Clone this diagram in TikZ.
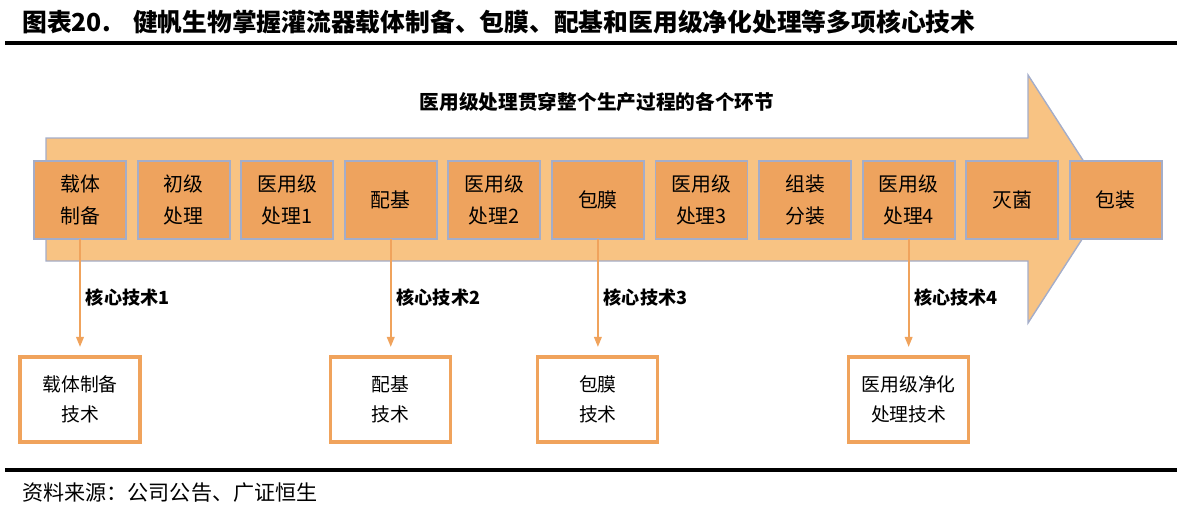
\documentclass[tikz,border=0pt]{standalone}
\usepackage{fontspec}
\setmainfont{Noto Sans CJK SC}
\usetikzlibrary{arrows.meta,positioning}
\definecolor{bandfill}{HTML}{F8C383}
\definecolor{stagefill}{HTML}{EEA35E}
\definecolor{stageline}{HTML}{A4ADC9}
\definecolor{techline}{HTML}{F0A35C}
\tikzset{
  stagebox/.style={
    draw=stageline,
    fill=stagefill,
    line width=1.1pt,
    align=center,
    minimum width=1.84cm,
    minimum height=1.56cm,
    inner sep=0pt,
    outer sep=0pt,
    font=\fontsize{11.3}{18}\selectfont
  },
  techbox/.style={
    draw=techline,
    fill=white,
    line width=1.8pt,
    align=center,
    minimum width=2.4cm,
    minimum height=1.7cm,
    inner sep=0pt,
    outer sep=0pt,
    font=\fontsize{10.7}{17}\selectfont
  },
  bandarrow/.style={
    fill=bandfill,
    draw=stageline,
    line width=0.8pt
  },
  techarrow/.style={
    -{Triangle[length=2mm,width=1.5mm]},
    draw=techline,
    line width=1.1pt,
    shorten >=0.2cm
  },
  techlabel/.style={
    anchor=west,
    inner sep=0pt,
    xshift=0.1cm,
    font=\bfseries\fontsize{10.3}{12}\selectfont
  },
  rulebar/.style={
    line width=2.2pt
  }
}

\begin{document}
\begin{tikzpicture}[x=0.02cm, y=-0.02cm, node distance=0.232cm]
  \useasboundingbox (0,0) rectangle (1192,514);
  % title and rules
  \node[anchor=west, inner sep=0pt, font=\bfseries\fontsize{14.1}{16}\selectfont] (title) at (22,22) {图表20.\hspace{0.9em}健帆生物掌握灌流器载体制备、包膜、配基和医用级净化处理等多项核心技术};
  \draw[rulebar] (5,43) -- (1177,43);
  \draw[rulebar] (5,470) -- (1177,470);
  \node[anchor=west, inner sep=0pt, font=\fontsize{12}{14}\selectfont] (source) at (22,493) {资料来源：公司公告、广证恒生};

  % big arrow
  \path[bandarrow] (46,138) -- (1028,138) -- (1028,75) -- (1108,199) -- (1028,323) -- (1028,261) -- (46,261) -- cycle;
  \node[font=\bfseries\fontsize{11.2}{14}\selectfont] (thru) at (597,102) {医用级处理贯穿整个生产过程的各个环节};

  % stages
  \node[stagebox] (s1) at (80,200) {载体\\制备};
  \node[stagebox, right=of s1] (s2) {初级\\处理};
  \node[stagebox, right=of s2] (s3) {医用级\\处理1};
  \node[stagebox, right=of s3] (s4) {配基};
  \node[stagebox, right=of s4] (s5) {医用级\\处理2};
  \node[stagebox, right=of s5] (s6) {包膜};
  \node[stagebox, right=of s6] (s7) {医用级\\处理3};
  \node[stagebox, right=of s7] (s8) {组装\\分装};
  \node[stagebox, right=of s8] (s9) {医用级\\处理4};
  \node[stagebox, right=of s9] (s10) {灭菌};
  \node[stagebox, right=of s10] (s11) {包装};

  % core techniques
  \node[techbox, below=2.36cm of s1] (t1) {载体制备\\技术};
  \node[techbox, below=2.36cm of s4] (t2) {配基\\技术};
  \node[techbox, below=2.36cm of s6] (t3) {包膜\\技术};
  \node[techbox, below=2.36cm of s9] (t4) {医用级净化\\处理技术};
  \draw[techarrow] (s1) -- node[midway, techlabel] {核心技术1} (t1);
  \draw[techarrow] (s4) -- node[midway, techlabel] {核心技术2} (t2);
  \draw[techarrow] (s6) -- node[midway, techlabel] {核心技术3} (t3);
  \draw[techarrow] (s9) -- node[midway, techlabel] {核心技术4} (t4);
\end{tikzpicture}
\end{document}
